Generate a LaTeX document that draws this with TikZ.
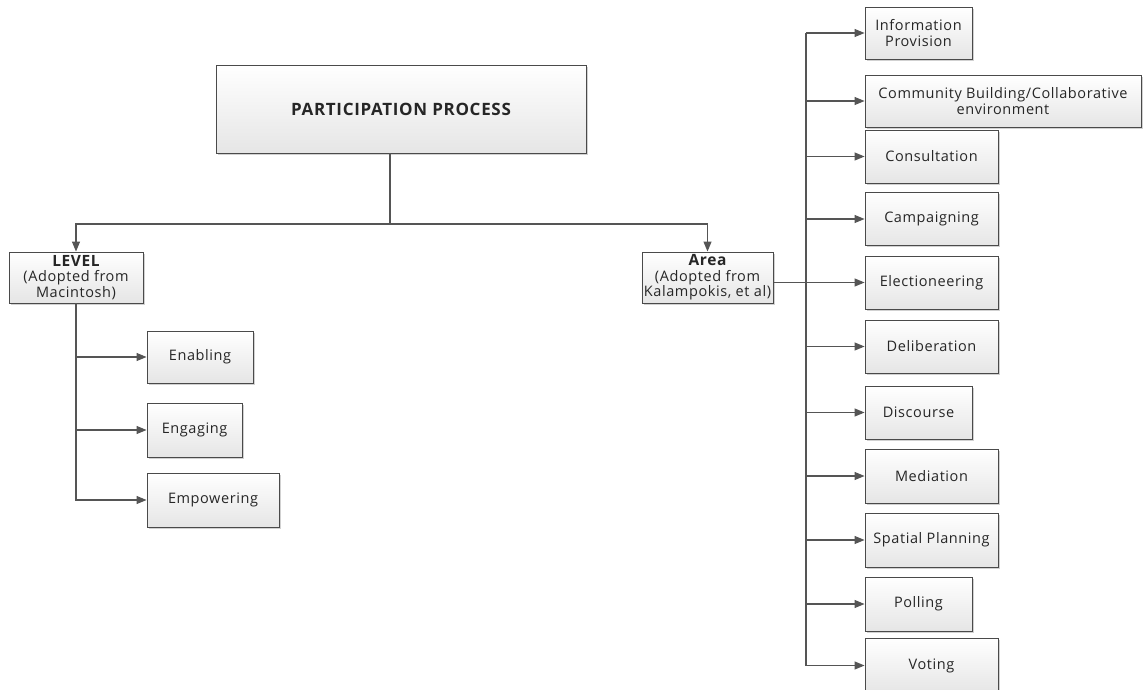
\documentclass[tikz,border=0pt]{standalone}
\usepackage{fontspec}
\setmainfont{Open Sans}[LetterSpace=4]
\usetikzlibrary{arrows.meta,shadows,calc}
\definecolor{linec}{HTML}{555555}
\definecolor{boxc}{HTML}{4A4A4A}
\begin{document}
\begin{tikzpicture}[x=1pt,y=-1pt,
  box/.style={draw=boxc, line width=0.9pt, top color=white, bottom color=black!10,
    drop shadow={shadow xshift=1.6pt,shadow yshift=-1.6pt,fill=black!30,opacity=0.6},
    align=center, inner sep=2pt, text=black!85,
    font=\fontsize{14.5}{15.5}\selectfont},
  conn/.style={draw=linec, line width=1.1pt},
  arr/.style={conn, -{Triangle[length=10pt,width=8pt]}}]
\useasboundingbox (0,0) rectangle (1145,690);
% top
\node[box, minimum width=370pt, minimum height=88pt, font=\fontsize{17}{18}\selectfont\bfseries] (pp) at (401,109) {PARTICIPATION PROCESS};
\node[box, minimum width=134pt, minimum height=51pt] (level) at (76,277.5) {{\fontsize{15.5}{15}\selectfont\bfseries LEVEL}\\(Adopted from\\Macintosh)};
\node[box, minimum width=131pt, minimum height=51pt] (area) at (707.5,277.5) {{\fontsize{15.5}{15}\selectfont\bfseries Area}\\(Adopted from\\Kalampokis, et al)};
% left
\node[box, minimum width=106pt, minimum height=52pt] (enab) at (200,357) {Enabling};
\node[box, minimum width=95pt, minimum height=54pt] (engag) at (194.5,430) {Engaging};
\node[box, minimum width=132pt, minimum height=54pt] (empow) at (213,500) {Empowering};
% right
\node[box, minimum width=107pt, minimum height=52pt] (info) at (918.5,33) {Information\\Provision};
\node[box, minimum width=276pt, minimum height=52pt] (comm) at (1003,101) {Community Building/Collaborative\\environment};
\node[box, minimum width=133pt, minimum height=53pt] (cons) at (931.5,156.5) {Consultation};
\node[box, minimum width=133pt, minimum height=53pt] (camp) at (931.5,219) {Campaigning};
\node[box, minimum width=133pt, minimum height=53pt] (elec) at (931.5,282.5) {Electioneering};
\node[box, minimum width=133pt, minimum height=53pt] (deli) at (931.5,346.5) {Deliberation};
\node[box, minimum width=107pt, minimum height=53pt] (disc) at (918.5,412.5) {Discourse};
\node[box, minimum width=133pt, minimum height=54pt] (medi) at (931.5,476) {Mediation};
\node[box, minimum width=133pt, minimum height=54pt] (spat) at (931.5,540) {Spatial Planning};
\node[box, minimum width=107pt, minimum height=54pt] (poll) at (918.5,604) {Polling};
\node[box, minimum width=133pt, minimum height=54pt] (voti) at (931.5,665.5) {Voting};
% connectors
\coordinate (j) at (390,224);
\coordinate (rb) at (806,0);
\draw[conn] (pp.south -| j) -- (j);
\draw[arr] (j) -| (level.north);
\draw[arr] (j) -| (area.north);
\draw[arr] (level.south) |- (enab.west);
\draw[arr] (level.south) |- (engag.west);
\draw[arr] (level.south) |- (empow.west);
\draw[conn] (info.west -| rb) -- (voti.west -| rb);
\draw[arr] (area.east |- elec.west) -- (elec.west);
\foreach \n in {info,comm,cons,camp,deli,disc,medi,spat,poll,voti}
  \draw[arr] (\n.west -| rb) -- (\n.west);
\end{tikzpicture}
\end{document}
